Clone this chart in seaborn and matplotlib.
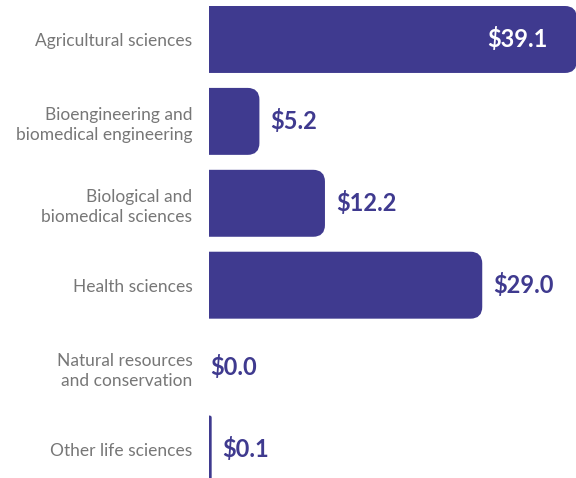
import matplotlib
matplotlib.use('Agg')
import matplotlib.pyplot as plt
import seaborn as sns
from matplotlib.path import Path
from matplotlib.patches import PathPatch

# Datos
categories = ['Agricultural sciences',
              'Bioengineering and\nbiomedical engineering',
              'Biological and\nbiomedical sciences',
              'Health sciences',
              'Natural resources\nand conservation',
              'Other life sciences']
values = [39.1, 5.2, 12.2, 29.0, 0.0, 0.1]

bar_color = '#3f3a8f'
label_gray = '#777777'

sns.set_style('white')
plt.rcParams['font.family'] = ['Lato', 'DejaVu Sans']

fig = plt.figure(figsize=(5.76, 4.78), dpi=100)
ax = fig.add_axes([209 / 576, 0, 367 / 576, 1])

sns.barplot(x=values, y=categories, orient='h', color=bar_color,
            saturation=1, width=0.775, ax=ax)

xmax = max(values) + 0.1
ax.set_xlim(0, xmax)
ax.set_ylim(5.354, -0.482)

# barras con esquinas redondeadas a la derecha
fig_w, fig_h = fig.get_size_inches() * fig.dpi
px_x = (367 / 576 * fig_w) / xmax
px_y = fig_h / (5.354 + 0.482)
r_px = 10
for p in list(ax.patches):
    x0, y0, w, h = p.get_x(), p.get_y(), p.get_width(), p.get_height()
    p.set_visible(False)
    if w <= 0:
        continue
    rx = min(r_px / px_x, w / 2)
    ry = rx * px_x / px_y
    x1, y1 = x0 + w, y0 + h
    verts = [(x0, y0), (x1 - rx, y0), (x1, y0), (x1, y0 + ry),
             (x1, y1 - ry), (x1, y1), (x1 - rx, y1), (x0, y1), (x0, y0)]
    codes = [Path.MOVETO, Path.LINETO, Path.CURVE3, Path.CURVE3,
             Path.LINETO, Path.CURVE3, Path.CURVE3, Path.LINETO, Path.CLOSEPOLY]
    ax.add_patch(PathPatch(Path(verts, codes), facecolor=bar_color,
                           edgecolor=bar_color, linewidth=2.5))

# etiquetas de valores
imax = values.index(max(values))
for i, v in enumerate(values):
    txt = f'${v:.1f}'
    if i == imax:
        ax.annotate(txt, xy=(v, i), xytext=(-20, 0), textcoords='offset points',
                    ha='right', va='center', color='white', fontsize=17,
                    fontweight='bold')
    else:
        off = 9 if v > 0 else 1
        ax.annotate(txt, xy=(v, i), xytext=(off, 0), textcoords='offset points',
                    ha='left', va='center', color=bar_color, fontsize=17,
                    fontweight='bold')

ax.tick_params(axis='y', length=0, pad=12, labelsize=12.5, labelcolor=label_gray)
for t in ax.get_yticklabels():
    t.set_linespacing(1.3)
ax.set_xticks([])
ax.set_xlabel('')
ax.set_ylabel('')
for s in ax.spines.values():
    s.set_visible(False)

fig.savefig('out.png', dpi=100)
